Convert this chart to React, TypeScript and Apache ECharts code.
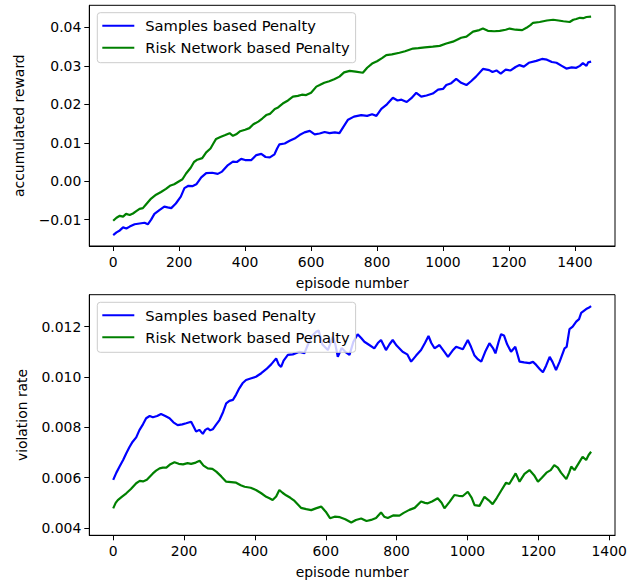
import React, { useEffect, useRef } from "react";
import * as echarts from "echarts";

const seriesNames = ["Samples based Penalty", "Risk Network based Penalty"];
const xTicks = [0, 200, 400, 600, 800, 1000, 1200, 1400];
const rewardTicks = [-0.01, 0, 0.01, 0.02, 0.03, 0.04];
const violationTicks = [0.004, 0.006, 0.008, 0.01, 0.012];

// Top panel: accumulated reward, Samples based Penalty
const rewardSamplesEp = [0, 10, 20, 30, 40, 50, 65, 80, 95, 105, 115, 125, 140, 155, 165, 176, 190, 205, 216, 228, 240, 252, 267, 282, 300, 317, 330, 348, 363, 375, 388, 400, 419, 434, 449, 462, 475, 489, 497, 504, 520, 535, 550, 565, 580, 596, 611, 626, 641, 656, 672, 686, 697, 712, 730, 752, 770, 785, 798, 813, 830, 848, 862, 874, 890, 904, 919, 934, 950, 969, 985, 1000, 1010, 1025, 1040, 1055, 1071, 1085, 1100, 1121, 1140, 1150, 1162, 1175, 1190, 1205, 1220, 1232, 1245, 1260, 1283, 1300, 1315, 1330, 1344, 1360, 1374, 1390, 1404, 1415, 1424, 1435, 1440, 1449];
const rewardSamples = [-0.0140, -0.0133, -0.0128, -0.0120, -0.0123, -0.0118, -0.0112, -0.0110, -0.0108, -0.0112, -0.0100, -0.0085, -0.0075, -0.0066, -0.0068, -0.0070, -0.0058, -0.0040, -0.0018, -0.0012, -0.0013, -0.0008, 0.0010, 0.0021, 0.0022, 0.0019, 0.0025, 0.0042, 0.0051, 0.0050, 0.0058, 0.0055, 0.0055, 0.0068, 0.0071, 0.0063, 0.0062, 0.0070, 0.0085, 0.0096, 0.0098, 0.0105, 0.0111, 0.0120, 0.0127, 0.0131, 0.0122, 0.0124, 0.0128, 0.0125, 0.0127, 0.0125, 0.0140, 0.0160, 0.0168, 0.0172, 0.0170, 0.0174, 0.0170, 0.0188, 0.0200, 0.0217, 0.0210, 0.0212, 0.0206, 0.0216, 0.0230, 0.0220, 0.0223, 0.0228, 0.0238, 0.0240, 0.0250, 0.0255, 0.0266, 0.0256, 0.0250, 0.0260, 0.0272, 0.0292, 0.0289, 0.0284, 0.0288, 0.0280, 0.0290, 0.0288, 0.0297, 0.0302, 0.0298, 0.0308, 0.0313, 0.0318, 0.0316, 0.0310, 0.0308, 0.0300, 0.0293, 0.0296, 0.0295, 0.0300, 0.0307, 0.0300, 0.0309, 0.0311];

// Top panel: accumulated reward, Risk Network based Penalty
const rewardRiskEp = [0, 10, 20, 30, 39, 50, 60, 70, 80, 90, 100, 115, 130, 145, 160, 172, 185, 200, 210, 221, 235, 245, 255, 270, 282, 295, 305, 312, 325, 340, 353, 363, 373, 385, 400, 413, 425, 440, 452, 464, 475, 490, 500, 514, 530, 545, 560, 572, 585, 600, 616, 626, 640, 655, 670, 686, 700, 717, 735, 757, 770, 785, 800, 815, 828, 845, 868, 885, 909, 925, 945, 969, 990, 1010, 1030, 1055, 1071, 1091, 1110, 1121, 1136, 1155, 1172, 1190, 1202, 1220, 1240, 1253, 1265, 1273, 1293, 1315, 1334, 1350, 1365, 1384, 1395, 1404, 1415, 1425, 1435, 1449];
const rewardRisk = [-0.0103, -0.0095, -0.0090, -0.0092, -0.0085, -0.0088, -0.0084, -0.0078, -0.0072, -0.0070, -0.0060, -0.0045, -0.0035, -0.0028, -0.0020, -0.0012, -0.0008, 0.0000, 0.0005, 0.0020, 0.0035, 0.0050, 0.0056, 0.0060, 0.0075, 0.0085, 0.0100, 0.0110, 0.0115, 0.0120, 0.0125, 0.0118, 0.0122, 0.0130, 0.0134, 0.0138, 0.0148, 0.0155, 0.0163, 0.0172, 0.0175, 0.0188, 0.0192, 0.0202, 0.0210, 0.0220, 0.0222, 0.0225, 0.0224, 0.0230, 0.0246, 0.0250, 0.0256, 0.0260, 0.0265, 0.0272, 0.0283, 0.0287, 0.0285, 0.0282, 0.0295, 0.0306, 0.0312, 0.0320, 0.0328, 0.0330, 0.0334, 0.0338, 0.0345, 0.0346, 0.0348, 0.0350, 0.0352, 0.0358, 0.0363, 0.0373, 0.0376, 0.0389, 0.0393, 0.0397, 0.0391, 0.0390, 0.0391, 0.0394, 0.0397, 0.0394, 0.0393, 0.0399, 0.0406, 0.0412, 0.0414, 0.0418, 0.0420, 0.0418, 0.0416, 0.0414, 0.0420, 0.0422, 0.0425, 0.0424, 0.0427, 0.0428];

// Bottom panel: violation rate, Samples based Penalty
const violationSamplesEp = [0, 9, 18, 28, 37, 46, 55, 65, 74, 84, 93, 103, 112, 124, 135, 147, 159, 170, 182, 195, 206, 220, 228, 234, 243, 253, 260, 267, 274, 281, 290, 300, 310, 319, 328, 338, 347, 356, 365, 375, 390, 403, 418, 432, 446, 460, 467, 474, 481, 493, 507, 526, 540, 550, 559, 573, 580, 590, 606, 620, 627, 634, 645, 655, 667, 678, 690, 700, 709, 723, 737, 747, 756, 770, 780, 789, 800, 817, 830, 841, 855, 869, 880, 890, 898, 907, 921, 935, 945, 958, 968, 987, 1001, 1010, 1020, 1030, 1039, 1050, 1062, 1072, 1079, 1088, 1095, 1103, 1112, 1123, 1135, 1147, 1160, 1175, 1185, 1194, 1205, 1213, 1222, 1232, 1240, 1250, 1260, 1274, 1280, 1288, 1297, 1307, 1315, 1321, 1335, 1342, 1349];
const violationSamples = [0.00591, 0.00620, 0.00644, 0.00670, 0.00697, 0.00722, 0.00743, 0.00760, 0.00789, 0.00812, 0.00836, 0.00845, 0.00840, 0.00845, 0.00853, 0.00845, 0.00836, 0.00820, 0.00809, 0.00812, 0.00816, 0.00822, 0.00800, 0.00783, 0.00790, 0.00774, 0.00790, 0.00796, 0.00788, 0.00792, 0.00810, 0.00829, 0.00860, 0.00895, 0.00905, 0.00909, 0.00930, 0.00955, 0.00975, 0.00988, 0.00995, 0.01001, 0.01015, 0.01031, 0.01050, 0.01074, 0.01050, 0.01040, 0.01065, 0.01088, 0.01090, 0.01100, 0.01095, 0.01130, 0.01160, 0.01180, 0.01185, 0.01130, 0.01107, 0.01160, 0.01130, 0.01080, 0.01115, 0.01100, 0.01088, 0.01140, 0.01170, 0.01155, 0.01140, 0.01127, 0.01114, 0.01135, 0.01147, 0.01107, 0.01130, 0.01147, 0.01125, 0.01100, 0.01090, 0.01061, 0.01085, 0.01107, 0.01135, 0.01163, 0.01135, 0.01114, 0.01127, 0.01100, 0.01080, 0.01105, 0.01120, 0.01110, 0.01147, 0.01120, 0.01085, 0.01070, 0.01061, 0.01100, 0.01134, 0.01115, 0.01094, 0.01140, 0.01170, 0.01165, 0.01130, 0.01100, 0.01120, 0.01061, 0.01058, 0.01055, 0.01060, 0.01048, 0.01030, 0.01019, 0.01045, 0.01080, 0.01060, 0.01028, 0.01060, 0.01114, 0.01120, 0.01190, 0.01200, 0.01220, 0.01230, 0.01255, 0.01270, 0.01275, 0.01282];

// Bottom panel: violation rate, Risk Network based Penalty
const violationRiskEp = [0, 7, 13, 25, 37, 50, 65, 75, 84, 95, 112, 121, 131, 140, 150, 160, 173, 185, 197, 210, 220, 233, 244, 255, 267, 280, 291, 305, 319, 333, 347, 360, 371, 388, 403, 418, 432, 441, 450, 460, 469, 478, 488, 500, 510, 520, 530, 545, 559, 572, 587, 600, 612, 625, 640, 655, 672, 685, 700, 715, 728, 742, 756, 765, 775, 790, 808, 820, 836, 851, 869, 880, 888, 900, 916, 927, 935, 950, 963, 975, 987, 1001, 1012, 1020, 1034, 1048, 1060, 1071, 1083, 1095, 1109, 1118, 1136, 1147, 1161, 1175, 1188, 1199, 1210, 1223, 1235, 1245, 1255, 1264, 1279, 1287, 1293, 1302, 1315, 1325, 1335, 1342, 1349];
const violationRisk = [0.00478, 0.00500, 0.00511, 0.00525, 0.00538, 0.00555, 0.00578, 0.00587, 0.00585, 0.00592, 0.00617, 0.00628, 0.00637, 0.00640, 0.00640, 0.00652, 0.00661, 0.00655, 0.00653, 0.00658, 0.00655, 0.00660, 0.00667, 0.00648, 0.00637, 0.00635, 0.00624, 0.00605, 0.00584, 0.00582, 0.00580, 0.00570, 0.00564, 0.00560, 0.00551, 0.00538, 0.00524, 0.00518, 0.00511, 0.00525, 0.00551, 0.00540, 0.00530, 0.00520, 0.00510, 0.00495, 0.00480, 0.00475, 0.00471, 0.00478, 0.00485, 0.00465, 0.00439, 0.00445, 0.00443, 0.00435, 0.00422, 0.00432, 0.00438, 0.00428, 0.00432, 0.00440, 0.00462, 0.00445, 0.00440, 0.00450, 0.00449, 0.00460, 0.00472, 0.00480, 0.00505, 0.00500, 0.00498, 0.00505, 0.00518, 0.00500, 0.00478, 0.00505, 0.00531, 0.00528, 0.00527, 0.00544, 0.00520, 0.00491, 0.00488, 0.00524, 0.00510, 0.00495, 0.00520, 0.00548, 0.00580, 0.00575, 0.00617, 0.00584, 0.00615, 0.00630, 0.00610, 0.00584, 0.00600, 0.00620, 0.00630, 0.00650, 0.00640, 0.00620, 0.00594, 0.00620, 0.00644, 0.00630, 0.00660, 0.00683, 0.00670, 0.00690, 0.00703];

const BLUE = "#0000ff";
const GREEN = "#008000";
const FONT = "DejaVu Sans";
const FS = 13.9;
const LEGEND_FS = 14.7;

const zip = (xs: number[], ys: number[]) => xs.map((x, i) => [x, ys[i]]);
const fmt = (digits: number) => (v: number) => {
  const s = Math.abs(v) < 1e-12 ? (0).toFixed(digits) : v.toFixed(digits);
  return s.replace("-", "\u2212");
};

function xAxisOpt(gridIndex: number, min: number, max: number) {
  return {
    type: "value",
    gridIndex,
    min,
    max,
    name: "episode number",
    nameLocation: "middle",
    nameGap: 30,
    nameTextStyle: { fontFamily: FONT, fontSize: FS, color: "#000" },
    axisLine: { show: true, onZero: false, lineStyle: { color: "#000", width: 1 } },
    axisTick: { show: true, length: 5, inside: false, customValues: xTicks, lineStyle: { color: "#000", width: 1 } },
    axisLabel: { show: true, customValues: xTicks, margin: 9, fontFamily: FONT, fontSize: FS, color: "#000", formatter: (v: number) => String(v) },
    splitLine: { show: false },
  };
}

function yAxisOpt(gridIndex: number, min: number, max: number, ticks: number[], digits: number, name: string, gap: number) {
  return {
    type: "value",
    gridIndex,
    min,
    max,
    name,
    nameLocation: "middle",
    nameRotate: 90,
    nameGap: gap,
    nameTextStyle: { fontFamily: FONT, fontSize: FS, color: "#000" },
    axisLine: { show: true, onZero: false, lineStyle: { color: "#000", width: 1 } },
    axisTick: { show: true, length: 5, inside: false, customValues: ticks, lineStyle: { color: "#000", width: 1 } },
    axisLabel: { show: true, customValues: ticks, margin: 8, fontFamily: FONT, fontSize: FS, color: "#000", formatter: fmt(digits) },
    splitLine: { show: false },
  };
}

function legendOpt(left: number, top: number) {
  return {
    left,
    top,
    orient: "vertical",
    data: seriesNames,
    icon: "rect",
    itemWidth: 32,
    itemHeight: 2,
    itemGap: 7,
    padding: [5.5, 6, 7.5, 5],
    backgroundColor: "rgba(255,255,255,0.8)",
    borderColor: "#cccccc",
    borderWidth: 1,
    borderRadius: 3,
    selectedMode: false,
    textStyle: { fontFamily: FONT, fontSize: LEGEND_FS, color: "#000", padding: [0, 0, 0, 6] },
  };
}

function lineSeries(name: string, color: string, data: number[][], axisIndex: number) {
  return {
    type: "line",
    name,
    data,
    xAxisIndex: axisIndex,
    yAxisIndex: axisIndex,
    showSymbol: false,
    symbol: "none",
    lineStyle: { color, width: 2.2 },
    itemStyle: { color },
    clip: true,
    z: 2,
  };
}

export default function App() {
  const ref = useRef<HTMLDivElement>(null);
  useEffect(() => {
    if (!ref.current) return;
    const chart = echarts.init(ref.current, undefined, { renderer: "svg" });
    chart.setOption({
      animation: false,
      backgroundColor: "#ffffff",
      textStyle: { fontFamily: FONT },
      grid: [
        { left: 89.3, top: 5.3, width: 525.7, height: 240.7, show: true, borderColor: "#000", borderWidth: 1, backgroundColor: "transparent" },
        { left: 89.3, top: 294.7, width: 525.7, height: 240.6, show: true, borderColor: "#000", borderWidth: 1, backgroundColor: "transparent" },
      ],
      xAxis: [xAxisOpt(0, -72.45, 1521.45), xAxisOpt(1, -67.45, 1416.45)],
      yAxis: [
        yAxisOpt(0, -0.01685, 0.04575, rewardTicks, 2, "accumulated reward", 63),
        yAxisOpt(1, 0.00371, 0.01327, violationTicks, 3, "violation rate", 60),
      ],
      legend: [legendOpt(97.3, 12.7), legendOpt(97.3, 302.3)],
      series: [
        lineSeries(seriesNames[0], BLUE, zip(rewardSamplesEp, rewardSamples), 0),
        lineSeries(seriesNames[1], GREEN, zip(rewardRiskEp, rewardRisk), 0),
        lineSeries(seriesNames[0], BLUE, zip(violationSamplesEp, violationSamples), 1),
        lineSeries(seriesNames[1], GREEN, zip(violationRiskEp, violationRisk), 1),
      ],
    });
    return () => chart.dispose();
  }, []);
  return <div ref={ref} style={{ position: "absolute", left: 0, top: 0, width: 641, height: 583 }} />;
}
